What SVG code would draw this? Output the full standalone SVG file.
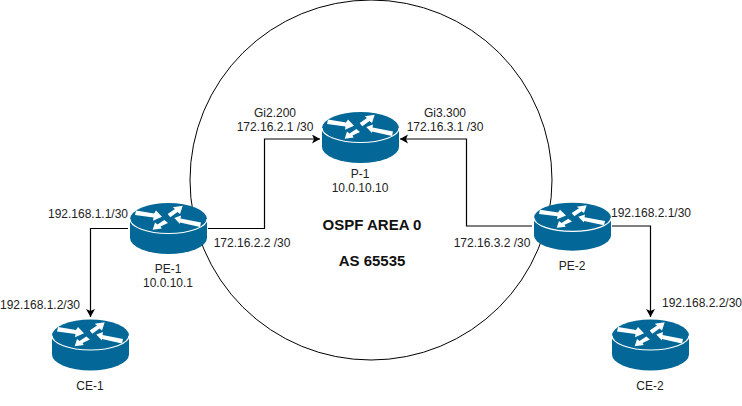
<svg xmlns="http://www.w3.org/2000/svg" width="742" height="406" viewBox="0 0 742 406">
<style>
text{font-family:"Liberation Sans",Arial,sans-serif;font-size:12px;fill:#222;text-anchor:middle}
.b{font-weight:bold;font-size:15px;fill:#111}
.c{fill:none;stroke:#000;stroke-width:1.2}
.body{fill:#036897}
.rim{fill:none;stroke:#fff;stroke-width:1.2}
.arr{fill:#fff}
</style>
<defs>
<marker id="ah" markerUnits="userSpaceOnUse" markerWidth="10" markerHeight="10" refX="8" refY="4.5" orient="auto"><path d="M0 0L8 4.500L0 9L2 4.500Z" fill="#000"/></marker>
<g id="router">
<path class="body" d="M0 16A38.5 16 0 0 1 77 16V35A38.5 16 0 0 1 0 35Z"/>
<path class="rim" d="M0 16A38.5 14.500 0 0 0 77 16"/>
<path class="arr" d="M6 7.500L24 10.500L26 7.500L32 13.700L23 17.700L23.500 14.500L5 12Z"/>
<path class="arr" d="M52.700 2.700L50 11L47.500 9L40.300 14.300L37.700 11L45 6L42.700 4.300Z"/>
<path class="arr" d="M44.300 15L51 12.500L50.500 15.500L71 19.500L70 24L50 19.500L50 21Z"/>
<path class="arr" d="M22.700 26.700L25 19.500L27.500 21.500L34.300 17L38 20L30.500 23.500L31.700 25.500Z"/>
</g>
</defs>
<ellipse cx="371" cy="180" rx="181" ry="180" fill="none" stroke="#000" stroke-width="1"/>
<g id="connectors">
<path class="c" marker-end="url(#ah)" d="M208 228.500H264.500V139H320"/>
<path class="c" marker-end="url(#ah)" d="M532 226H466.500V139H400"/>
<path class="c" marker-end="url(#ah)" d="M128 228.500H90.500V317"/>
<path class="c" marker-end="url(#ah)" d="M612 226H650.500V317"/>
</g>
<g id="p1"><use href="#router" x="322" y="112"/><text x="360" y="178">P-1</text><text x="360" y="192">10.0.10.10</text></g>
<g id="pe1"><use href="#router" x="130" y="203"/><text x="168" y="273">PE-1</text><text x="168" y="287">10.0.10.1</text></g>
<g id="pe2"><use href="#router" transform="translate(534 202.700) scale(1 .94)"/><text x="572" y="270">PE-2</text></g>
<g id="ce1"><use href="#router" x="52" y="319.500"/><text x="90" y="390">CE-1</text></g>
<g id="ce2"><use href="#router" x="612" y="319.500"/><text x="650" y="390">CE-2</text></g>
<g id="labels">
<text x="275" y="117">Gi2.200</text><text x="275" y="131">172.16.2.1 /30</text>
<text x="445" y="117">Gi3.300</text><text x="445" y="131">172.16.3.1 /30</text>
<text x="88" y="218">192.168.1.1/30</text>
<text x="40" y="309">192.168.1.2/30</text>
<text x="252" y="247">172.16.2.2 /30</text>
<text x="492" y="247">172.16.3.2 /30</text>
<text x="651" y="217">192.168.2.1/30</text>
<text x="702" y="307">192.168.2.2/30</text>
<text class="b" x="372" y="230">OSPF AREA 0</text>
<text class="b" x="372" y="266">AS 65535</text>
</g>
</svg>
